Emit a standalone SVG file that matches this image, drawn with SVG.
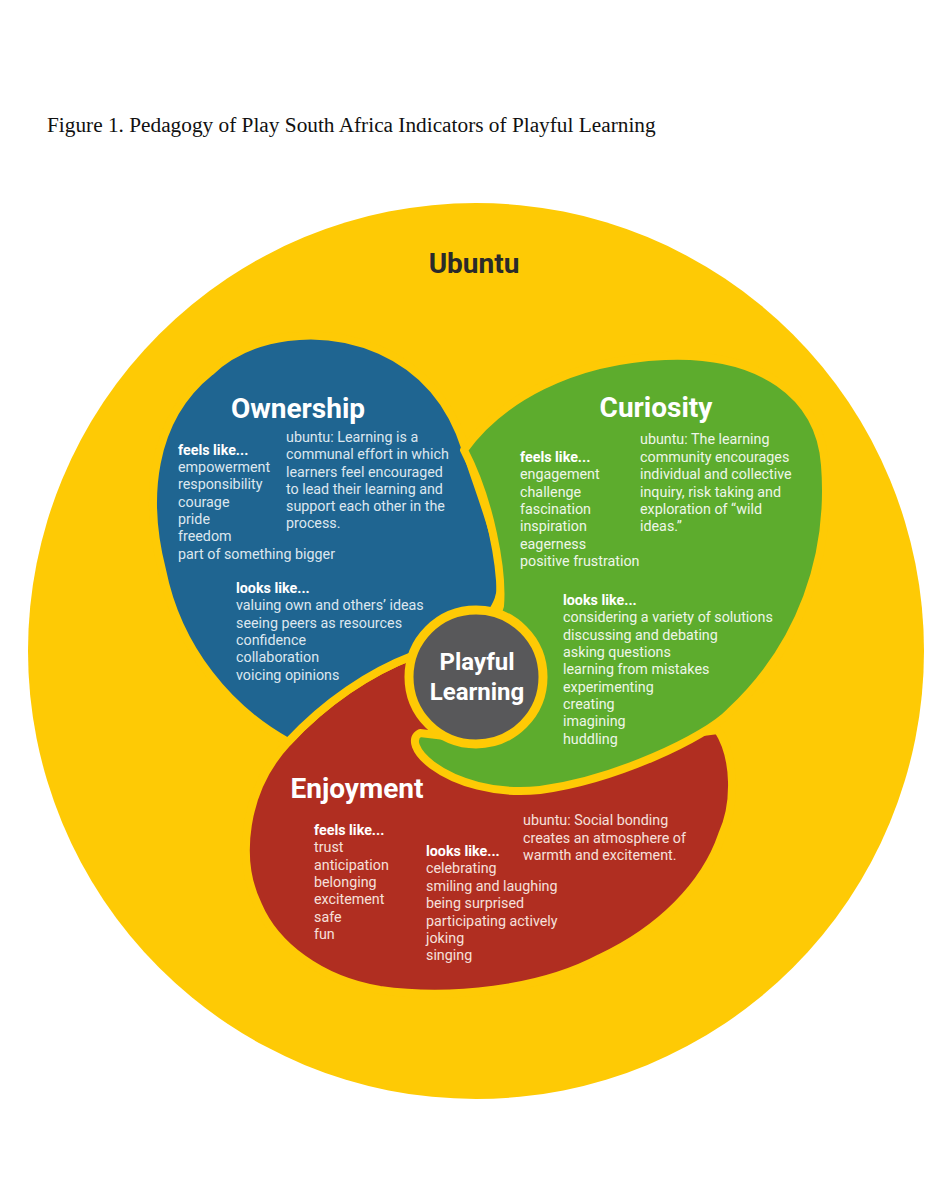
<svg xmlns="http://www.w3.org/2000/svg" width="941" height="1200" viewBox="0 0 941 1200">
<style>
.title{font-family:"Liberation Serif","Times New Roman",serif;font-size:21.3px;fill:#111}
.blob{stroke:#FECA05;stroke-width:8;stroke-linejoin:round}
.h{font-family:Roboto,"Liberation Sans",sans-serif;font-weight:700;font-size:28px;fill:#fff;text-anchor:middle}
.b{font-family:Roboto,"Liberation Sans",sans-serif;font-size:14.3px}
.lbl{font-weight:700;fill:#fff}
.tb{fill:#dde7ef}.tg{fill:#eef6e8}.tr{fill:#f6e0dc}
</style>
<rect width="941" height="1200" fill="#fff"/>
<text class="title" x="47" y="132">Figure 1. Pedagogy of Play South Africa Indicators of Playful Learning</text>
<g id="ubuntu">
<circle cx="476" cy="651" r="448" fill="#FECA05"/>
<text x="474" y="273" font-family="Roboto,'Liberation Sans',sans-serif" font-weight="700" font-size="28" fill="#2a2a2a" text-anchor="middle">Ubuntu</text>
</g>
<g id="connectors"/>
<g id="enjoyment">
<path class="blob" fill="#B02E21" d="M718,730 C736,758 736,805 722,835 C705,885 660,930 600,958 C540,990 450,1000 380,990 C320,980 275,945 258,905 C236,860 243,790 288,742 C325,702 370,672 412,656 L470,690 L520,760 L640,748 L680,735 Z"/>
<text class="h" x="357" y="798">Enjoyment</text>
<text class="b tr"><tspan class="lbl" x="314" y="835">feels like...</tspan><tspan x="314" y="852">trust</tspan><tspan x="314" y="869.5">anticipation</tspan><tspan x="314" y="887">belonging</tspan><tspan x="314" y="904">excitement</tspan><tspan x="314" y="921.5">safe</tspan><tspan x="314" y="939">fun</tspan></text>
<text class="b tr"><tspan class="lbl" x="426" y="856">looks like...</tspan><tspan x="426" y="873">celebrating</tspan><tspan x="426" y="891">smiling and laughing</tspan><tspan x="426" y="908">being surprised</tspan><tspan x="426" y="925.5">participating actively</tspan><tspan x="426" y="943">joking</tspan><tspan x="426" y="960">singing</tspan></text>
<text class="b tr"><tspan x="523" y="825">ubuntu: Social bonding</tspan><tspan x="523" y="843">creates an atmosphere of</tspan><tspan x="523" y="860">warmth and excitement.</tspan></text>
</g>
<g id="ownership">
<path class="blob" fill="#1F6591" d="M288,742 C230,710 178,650 162,570 C144,500 150,420 210,372 C250,334 320,324 380,350 C425,370 452,405 466,450 C480,495 500,540 501,580 C502,595 497,605 490,615 L470,670 L412,656 C370,672 325,702 288,742 Z"/>
<text class="h" x="298" y="418">Ownership</text>
<text class="b tb"><tspan class="lbl" x="178" y="455">feels like...</tspan><tspan x="178" y="472">empowerment</tspan><tspan x="178" y="489">responsibility</tspan><tspan x="178" y="506.5">courage</tspan><tspan x="178" y="524">pride</tspan><tspan x="178" y="541">freedom</tspan><tspan x="178" y="558.5">part of something bigger</tspan></text>
<text class="b tb"><tspan x="286" y="442">ubuntu: Learning is a</tspan><tspan x="286" y="459">communal effort in which</tspan><tspan x="286" y="476.5">learners feel encouraged</tspan><tspan x="286" y="494">to lead their learning and</tspan><tspan x="286" y="511">support each other in the</tspan><tspan x="286" y="528">process.</tspan></text>
<text class="b tb"><tspan class="lbl" x="236" y="593">looks like...</tspan><tspan x="236" y="610">valuing own and others’ ideas</tspan><tspan x="236" y="627.5">seeing peers as resources</tspan><tspan x="236" y="645">confidence</tspan><tspan x="236" y="662">collaboration</tspan><tspan x="236" y="679.5">voicing opinions</tspan></text>
</g>
<g id="curiosity">
<path class="blob" fill="#5DAC2D" d="M464,450 C500,400 570,360 665,356 C760,352 820,395 825,465 C832,555 802,645 730,712 C705,738 615,780 540,790 C495,795 455,782 432,765 C415,752 410,738 420,733 L445,736 L476,677 L500,606 C503,570 490,500 464,450 Z"/>
<text class="h" x="656" y="417">Curiosity</text>
<text class="b tg"><tspan class="lbl" x="520" y="462">feels like...</tspan><tspan x="520" y="479">engagement</tspan><tspan x="520" y="497">challenge</tspan><tspan x="520" y="514">fascination</tspan><tspan x="520" y="531">inspiration</tspan><tspan x="520" y="549">eagerness</tspan><tspan x="520" y="566">positive frustration</tspan></text>
<text class="b tg"><tspan x="640" y="444">ubuntu: The learning</tspan><tspan x="640" y="462">community encourages</tspan><tspan x="640" y="479">individual and collective</tspan><tspan x="640" y="497">inquiry, risk taking and</tspan><tspan x="640" y="514">exploration of “wild</tspan><tspan x="640" y="531">ideas.”</tspan></text>
<text class="b tg"><tspan class="lbl" x="563" y="605">looks like...</tspan><tspan x="563" y="622">considering a variety of solutions</tspan><tspan x="563" y="640">discussing and debating</tspan><tspan x="563" y="657">asking questions</tspan><tspan x="563" y="674">learning from mistakes</tspan><tspan x="563" y="692">experimenting</tspan><tspan x="563" y="709">creating</tspan><tspan x="563" y="726">imagining</tspan><tspan x="563" y="744">huddling</tspan></text>
</g>
<g id="playful-learning">
<circle cx="476" cy="677" r="67" fill="#58585A" stroke="#FECA05" stroke-width="9"/>
<text x="477" y="670" font-family="Roboto,'Liberation Sans',sans-serif" font-weight="700" font-size="24" fill="#fff" text-anchor="middle">Playful</text>
<text x="477" y="700" font-family="Roboto,'Liberation Sans',sans-serif" font-weight="700" font-size="24" fill="#fff" text-anchor="middle">Learning</text>
</g>
</svg>
